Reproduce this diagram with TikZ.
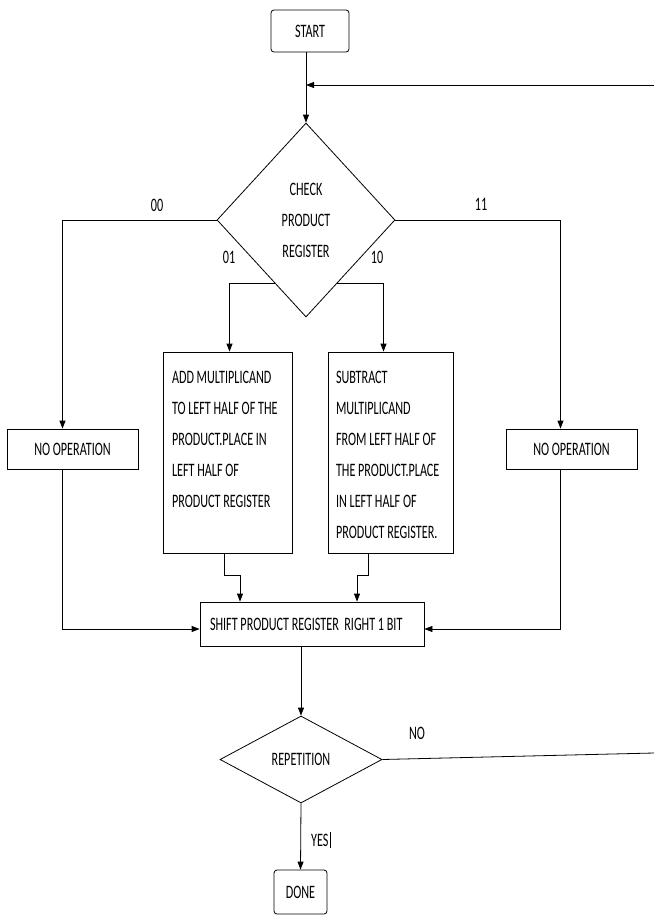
\documentclass[tikz,border=0pt]{standalone}
\usepackage{fontspec}
\setmainfont{Carlito}[FakeStretch=0.64]
\usetikzlibrary{arrows.meta, positioning, shapes.geometric, calc}

\begin{document}
\begin{tikzpicture}[x=1pt, y=-1pt, line width=0.8pt,
    every node/.style={font=\fontsize{19}{31}\selectfont}]
  \tikzset{box/.style={draw, rectangle, inner sep=0pt},
    term/.style={box, rounded corners=3pt},
    decide/.style={draw, diamond, inner sep=0pt, align=center},
    arr/.style={-{Triangle[length=8pt, width=6pt]}},
    txt/.style={anchor=north west, inner sep=0pt, align=left}}
  \useasboundingbox (0,0) rectangle (654,918);
  \node[term, minimum width=78pt, minimum height=42pt] (start) at (310,31) {START};
  \node[decide, minimum width=178pt, minimum height=194pt] (check) at (306,220) {CHECK\\PRODUCT\\REGISTER};
  \node[box, minimum width=131pt, minimum height=40pt] (noopL) at (72.5,449) {NO OPERATION};
  \node[box, minimum width=131pt, minimum height=40pt] (noopR) at (571.5,449) {NO OPERATION};
  \node[box, minimum width=129pt, minimum height=201pt] (add) at (227.5,452.5) {};
  \node[txt] (addtxt) at ([shift={(9,19)}]add.north west) {ADD MULTIPLICAND\\TO LEFT HALF OF THE\\PRODUCT.PLACE IN\\LEFT HALF OF\\PRODUCT REGISTER};
  \node[box, minimum width=125pt, minimum height=201pt] (sub) at (390.5,452.5) {};
  \node[txt] (subtxt) at ([shift={(8,19)}]sub.north west) {SUBTRACT\\MULTIPLICAND\\FROM LEFT HALF OF\\THE PRODUCT.PLACE\\IN LEFT HALF OF\\PRODUCT REGISTER.};
  \node[box, inner xsep=10pt, minimum height=44pt] (shift) at (312,624) {\makebox[204pt][l]{SHIFT PRODUCT REGISTER\ \ RIGHT 1 BIT}};
  \node[decide, minimum width=162pt, minimum height=87pt] (rep) at (301,759.5) {REPETITION};
  \node[term, minimum width=53pt, minimum height=44pt] (done) at (300.5,892) {DONE};

  \node (l00) at (157,205) {00};
  \node (l11) at (481,204) {11};
  \node (l01) at (229,257) {01};
  \node (l10) at (377,257) {10};
  \node (lno) at (417,733) {NO};
  \node (lyes) at (321,840) {YES\kern1pt\rule[-2pt]{1.3pt}{16pt}};

  \coordinate (loopin) at (654,85);
  \coordinate (loopout) at (654,753);
  \draw[arr] (start.south -| check.north) -- (check.north);
  \draw[arr] (loopin) -- (loopin -| check.north);
  \draw[arr] (check.west) -| ([xshift=-10pt]noopL.north);
  \draw[arr] (check.east) -| ([xshift=-11pt]noopR.north);
  \draw[arr] ($(check.west)!0.65!(check.south)$) -| ([xshift=2pt]add.north);
  \draw[arr] ($(check.east)!0.65!(check.south)$) -| ([xshift=-7pt]sub.north);
  \draw[arr] ([xshift=-3pt]add.south) -- ++(0,22) -| ([xshift=-72pt]shift.north);
  \draw[arr] ([xshift=-22pt]sub.south) -- ++(0,22) -| ([xshift=45pt]shift.north);
  \draw[arr] ([xshift=-10pt]noopL.south) |- ([yshift=-5pt]shift.west);
  \draw[arr] ([xshift=-11pt]noopR.south) |- ([yshift=-5pt]shift.east);
  \draw[arr] (shift.south -| rep.north) -- (rep.north);
  \draw (rep.east) -- (loopout);
  \draw[arr] (rep.south) -- (done.north);
\end{tikzpicture}
\end{document}
